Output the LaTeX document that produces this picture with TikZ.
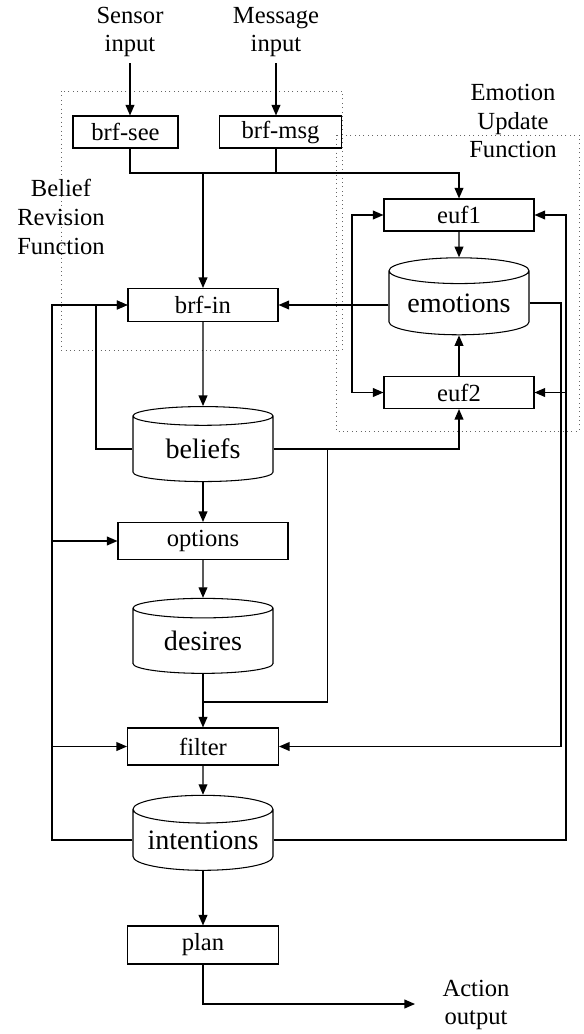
\documentclass[tikz,border=0pt]{standalone}
\usepackage{fontspec}
\setmainfont{Liberation Serif}
\usetikzlibrary{shapes.geometric,arrows.meta}

\begin{document}
\begin{tikzpicture}[x=0.02cm, y=-0.02cm,
    box/.style={draw, line width=0.6pt, inner sep=0pt, font=\fontsize{14}{16.4}\selectfont},
    store/.style={draw, cylinder, shape border rotate=90, aspect=0.25, line width=0.6pt,
        inner sep=0pt, minimum width=2.8cm, minimum height=1.5cm, font=\fontsize{16}{19}\selectfont},
    lbl/.style={align=center, font=\fontsize{14}{16.4}\selectfont},
    area/.style={draw=black!60, dotted, line width=0.5pt},
    wire/.style={line width=0.75pt},
    arr/.style={wire, -{Triangle[length=6pt,width=5pt]}},
    arrboth/.style={wire, {Triangle[length=6pt,width=5pt]}-{Triangle[length=6pt,width=5pt]}}]
    \useasboundingbox (0,0) rectangle (584,1034);

    % Function areas
    \draw[area] (61,91) rectangle (342,350);
    \draw[area] (336,135) rectangle (579,431);
    \node[lbl] (brflabel) at (61,217) {Belief\\Revision\\Function};
    \node[lbl] (euflabel) at (513,121) {Emotion\\Update\\Function};

    % Inputs and output
    \node[lbl] (sensor) at (130,32) {Sensor\\input};
    \node[lbl] (message) at (276,32) {Message\\input};
    \node[lbl] (action) at (476,1005) {Action\\output};

    % Main column
    \node[box, minimum width=2.1cm, minimum height=0.64cm] (see) at (125.5,132) {brf-see};
    \node[box, minimum width=2.44cm, minimum height=0.64cm] (msg) at (280.5,132) {brf-msg};
    \node[box, minimum width=3cm, minimum height=0.66cm] (brfin) at (203,305) {brf-in};
    \node[store] (beliefs) at (203,449) {beliefs};
    \node[box, minimum width=3.4cm, minimum height=0.74cm] (options) at (203,541) {options};
    \node[store] (desires) at (203,641) {desires};
    \node[box, minimum width=3.02cm, minimum height=0.74cm] (filter) at (203,746.5) {filter};
    \node[store] (intentions) at (203,840) {intentions};
    \node[box, minimum width=3.02cm, minimum height=0.76cm] (plan) at (203,945) {plan};

    % Emotion column
    \node[box, minimum width=3cm, minimum height=0.64cm] (euf1) at (459,215) {euf1};
    \node[store, minimum height=1.54cm] (emotions) at (459,303) {emotions};
    \node[box, minimum width=3cm, minimum height=0.64cm] (euf2) at (459,392.5) {euf2};

    % Helper points
    \coordinate (join) at (203,173);
    \coordinate (merge) at (203,702);
    \coordinate (eleft) at (352,304);
    \coordinate (bleft) at (96,0);
    \coordinate (bsplit) at (327.7,0);
    \coordinate (outl) at (52,0);
    \coordinate (outr) at (566,0);
    \coordinate (midr) at (561,0);
    \coordinate (out) at (415,1004);

    % Inputs to belief revision
    \draw[arr] (sensor) -- (sensor |- see.north);
    \draw[arr] (message) -- (message |- msg.north);
    \draw[arr] (sensor |- see.south) -- (sensor |- join) -- (join -| euf1) -- (euf1.north);
    \draw[wire] (message |- msg.south) -- (message |- join);
    \draw[arr] (join) -- (brfin.north);

    % Emotion update
    \draw[arr] (euf1) -- (emotions);
    \draw[arr] (euf2) -- (emotions);
    \draw[arrboth] (euf1.west) -| (eleft) |- (euf2.west);
    \draw[arr] (emotions.west |- brfin) -- (brfin.east);

    % Main flow
    \draw[arr] (brfin) -- (beliefs);
    \draw[arr] (beliefs) -- (options);
    \draw[arr] (options) -- (desires);
    \draw[wire] (desires.south) -- (merge);
    \draw[arr] (merge) -- (filter.north);
    \draw[arr] (filter) -- (intentions);
    \draw[arr] (intentions) -- (plan);
    \draw[arr] (plan.south) |- (out);

    % Beliefs feedback
    \draw[arr] (beliefs.east) -| (euf2.south);
    \draw[wire] (bsplit |- beliefs.east) |- (merge);
    \draw[arr] (beliefs.west) -| (bleft |- brfin) -- (brfin.west);

    % Intentions feedback
    \draw[arr] (intentions.west) -| (outl |- brfin) -- (brfin.west);
    \draw[arr] (outl |- options) -- (options.west);
    \draw[arr] (outl |- filter) -- (filter.west);
    \draw[arr] (intentions.east) -| (outr |- euf1) -- (euf1.east);
    \draw[arr] (outr |- euf2) -- (euf2.east);
    \draw[arr] (emotions.east) -| (midr |- filter) -- (filter.east);
\end{tikzpicture}
\end{document}
